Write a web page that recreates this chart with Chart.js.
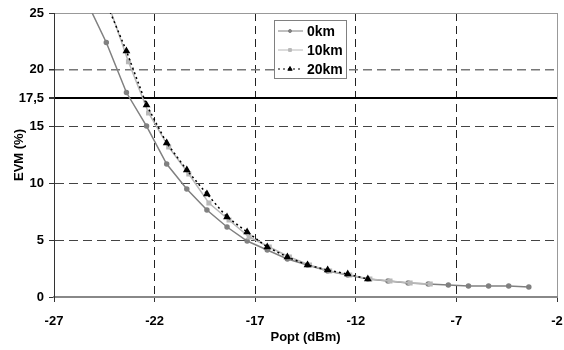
<!DOCTYPE html>
<html>
<head>
<meta charset="utf-8">
<script src="https://cdn.jsdelivr.net/npm/chart.js@4.4.1/dist/chart.umd.min.js"></script>
<style>
  html, body { margin: 0; padding: 0; background: #fff; overflow: hidden; }
</style>
</head>
<body>
<canvas id="evmChart" width="564" height="350"></canvas>
<script>
// values (dBm -> EVM %)
const x0km = [-25.4, -24.4, -23.4, -22.4, -21.4, -20.4, -19.4, -18.4, -17.4, -16.4, -15.4, -14.4, -13.4, -12.4, -11.4, -10.4, -9.4, -8.4, -7.4, -6.4, -5.4, -4.4, -3.4];
const evm0km = [26.1, 22.4, 18.0, 15.05, 11.7, 9.5, 7.66, 6.16, 4.93, 4.14, 3.35, 2.82, 2.29, 1.94, 1.58, 1.41, 1.23, 1.14, 1.06, 0.97, 0.97, 0.97, 0.88];

const x10km = [-24.3, -23.3, -22.3, -21.3, -20.3, -19.3, -18.3, -17.3, -16.3, -15.3, -14.3, -13.3, -12.3, -11.3, -10.3, -9.3, -8.3];
const evm10km = [25.8, 20.7, 16.2, 13.2, 10.83, 8.27, 6.78, 5.28, 4.4, 3.52, 2.82, 2.29, 1.94, 1.58, 1.41, 1.23, 1.14];

const x20km = [-24.4, -23.4, -22.4, -21.4, -20.4, -19.4, -18.4, -17.4, -16.4, -15.4, -14.4, -13.4, -12.4, -11.4];
const evm20km = [25.9, 21.65, 16.9, 13.56, 11.18, 9.07, 7.04, 5.72, 4.4, 3.52, 2.82, 2.38, 2.02, 1.58];

const xTicks = [-27, -22, -17, -12, -7, -2];
const yTicks = [0, 5, 10, 15, 17.5, 20, 25];
const threshold = 17.5;

const font = { family: "'Liberation Sans', Arial, sans-serif", size: 13, weight: 'bold' };

function toPoints(xs, ys) {
    return xs.map((x, i) => ({ x: x, y: ys[i] }));
}

const legendBox = {
    id: 'legendBox',
    afterDraw(chart) {
        const c = chart.ctx;
        const area = chart.chartArea;
        const left = area.left + 220, top = area.top + 7;
        c.save();
        c.fillStyle = '#fff';
        c.fillRect(left, top, 72, 58);
        c.strokeStyle = '#808080';
        c.lineWidth = 1;
        c.strokeRect(left + 0.5, top + 0.5, 72, 58);
        c.font = "bold 14px 'Liberation Sans', Arial, sans-serif";
        c.textBaseline = 'middle';
        chart.data.datasets.forEach((ds, i) => {
            const y = top + 11 + i * 19;
            c.strokeStyle = ds.borderColor;
            c.lineWidth = 1;
            c.setLineDash(ds.borderDash || []);
            c.beginPath();
            c.moveTo(left + 4, y);
            c.lineTo(left + 29, y);
            c.stroke();
            c.setLineDash([]);
            c.fillStyle = ds.pointBackgroundColor;
            c.strokeStyle = ds.pointBorderColor;
            Chart.helpers.drawPoint(c, {
                pointStyle: ds.pointStyle,
                radius: ds.pointRadius - 0.5,
                rotation: 0,
                borderWidth: 1
            }, left + 16, y);
            c.fillStyle = '#000';
            c.fillText(ds.label, left + 33, y + 1);
        });
        c.restore();
    }
};

const ctx = document.getElementById('evmChart').getContext('2d');
const evmChart = new Chart(ctx, {
    type: 'scatter',
    data: {
        datasets: [{
            label: '0km',
            data: toPoints(x0km, evm0km),
            showLine: true,
            borderColor: '#808080',
            pointBackgroundColor: '#808080',
            pointBorderColor: '#808080',
            pointStyle: 'circle',
            pointRadius: 2,
            borderWidth: 1.5,
            order: 2
        }, {
            label: '10km',
            data: toPoints(x10km, evm10km),
            showLine: true,
            borderColor: '#b8b8b8',
            pointBackgroundColor: '#b8b8b8',
            pointBorderColor: '#b8b8b8',
            pointStyle: 'rect',
            pointRadius: 2.5,
            borderWidth: 1.5,
            order: 1
        }, {
            label: '20km',
            data: toPoints(x20km, evm20km),
            showLine: true,
            borderColor: '#000',
            borderDash: [2, 3],
            pointBackgroundColor: '#000',
            pointBorderColor: '#000',
            pointStyle: 'triangle',
            pointRadius: 3,
            borderWidth: 1.5,
            order: 0
        }]
    },
    options: {
        responsive: false,
        animation: false,
        layout: { padding: { left: 12, top: 13, right: 0, bottom: 5 } },
        plugins: {
            legend: { display: false },
            tooltip: { enabled: false }
        },
        scales: {
            x: {
                type: 'linear',
                min: -27,
                max: -2,
                afterBuildTicks: scale => { scale.ticks = xTicks.map(v => ({ value: v })); },
                afterFit: scale => {
                    scale.height = 48;
                    scale.paddingLeft = 0;
                    scale.paddingRight = 7;
                },
                ticks: { color: '#000', font: font, padding: 12, maxRotation: 0 },
                grid: {
                    color: c => (c.tick && c.tick.value === -2) ? '#999' : '#222',
                    lineWidth: 1,
                    tickLength: 5,
                    tickColor: '#333',
                    tickBorderDash: []
                },
                border: {
                    display: true,
                    color: '#888',
                    width: 2,
                    dash: c => (c.tick && c.tick.value > -27 && c.tick.value < -2) ? [8, 5] : []
                },
                title: { display: true, text: 'Popt (dBm)', color: '#000', font: font, padding: 0 }
            },
            y: {
                type: 'linear',
                min: 0,
                max: 25,
                afterBuildTicks: scale => { scale.ticks = yTicks.map(v => ({ value: v })); },
                afterFit: scale => { scale.width = 42; },
                ticks: {
                    color: '#000',
                    font: font,
                    padding: 5,
                    callback: v => String(v).replace('.', ',')
                },
                grid: {
                    color: c => {
                        if (!c.tick) return '#555';
                        if (c.tick.value === threshold) return '#000';
                        if (c.tick.value === 25) return '#999';
                        if (c.tick.value === 20) return '#777';
                        return '#444';
                    },
                    lineWidth: c => (c.tick && c.tick.value === threshold) ? 2 : (c.tick && c.tick.value === 20 ? 1.5 : 1),
                    tickLength: 5,
                    tickColor: '#333',
                    tickBorderDash: []
                },
                border: {
                    display: true,
                    color: '#333',
                    width: 1,
                    dash: c => (c.tick && c.tick.value > 0 && c.tick.value < 25 && c.tick.value !== threshold) ? [9, 5] : []
                },
                title: { display: true, text: 'EVM (%)', color: '#000', font: font, padding: 0 }
            }
        }
    },
    plugins: [legendBox]
});
</script>
</body>
</html>
